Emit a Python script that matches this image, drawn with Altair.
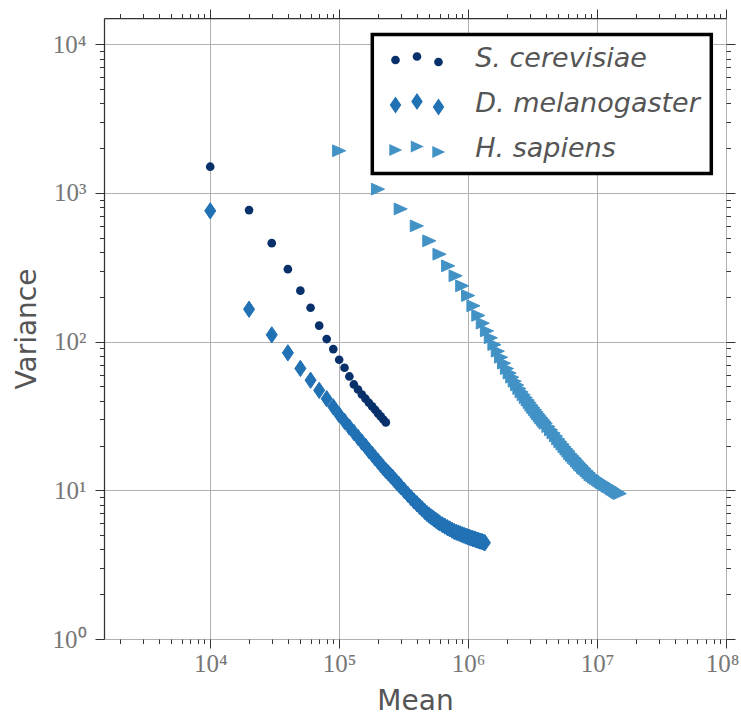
import altair as alt
import pandas as pd

species = ["S. cerevisiae", "D. melanogaster", "H. sapiens"]
colors = ["#08306b", "#2171b5", "#4292c6"]

s_cer_mean = [1.0e4, 2.0e4, 3.0e4, 4.0e4, 5.0e4, 6.0e4, 7.0e4, 8.0e4, 9.0e4, 1.0e5,
              1.1e5, 1.2e5, 1.3e5, 1.4e5, 1.5e5, 1.6e5, 1.7e5, 1.8e5, 1.9e5, 2.0e5,
              2.1e5, 2.2e5, 2.3e5]
s_cer_var = [1500, 766, 459, 307, 220, 169, 128, 104, 89.0, 75.5,
             66.7, 58.3, 51.5, 47.6, 44.1, 41.3, 38.8, 36.7, 34.8, 32.9,
             31.4, 29.9, 28.6]

d_mel_mean = [1.0e4, 2.0e4, 3.0e4, 4.0e4, 5.0e4, 6.0e4, 7.0e4, 8.0e4, 9.0e4, 1.0e5,
              1.1e5, 1.2e5, 1.3e5, 1.4e5, 1.5e5, 1.6e5, 1.7e5, 1.8e5, 1.9e5, 2.0e5,
              2.1e5, 2.2e5, 2.3e5, 2.4e5, 2.5e5, 2.6e5, 2.7e5, 2.8e5, 2.9e5, 3.0e5,
              3.2e5, 3.4e5, 3.6e5, 3.8e5, 4.0e5, 4.2e5, 4.4e5, 4.6e5, 4.8e5, 5.0e5,
              5.2e5, 5.4e5, 5.6e5, 5.8e5, 6.0e5,
              6.3e5, 6.6e5, 6.9e5, 7.2e5, 7.5e5, 7.8e5, 8.1e5, 8.4e5, 8.7e5, 9.0e5,
              9.3e5, 9.6e5, 9.9e5, 1.02e6, 1.05e6, 1.08e6, 1.11e6, 1.14e6, 1.17e6, 1.20e6,
              1.23e6, 1.26e6, 1.29e6, 1.32e6, 1.35e6]
d_mel_var = [757, 165, 111, 84, 66, 55, 47, 41.3, 36.4, 32.2,
             29.1, 26.6, 24.5, 22.7, 21.1, 19.8, 18.5, 17.5, 16.5, 15.7,
             14.9, 14.2, 13.6, 13.1, 12.6, 12.2, 11.7, 11.3, 10.96, 10.6,
             9.97, 9.41, 8.92, 8.48, 8.13, 7.80, 7.50, 7.22, 6.97, 6.78,
             6.61, 6.45, 6.30, 6.16, 6.03,
             5.87, 5.74, 5.61, 5.50, 5.39, 5.29, 5.22, 5.16, 5.09, 5.03,
             4.98, 4.92, 4.87, 4.83, 4.78, 4.74, 4.71, 4.67, 4.63, 4.60,
             4.56, 4.54, 4.51, 4.47, 4.44]

h_sap_mean = [1.0e5, 2.0e5, 3.0e5, 4.0e5, 5.0e5, 6.0e5, 7.0e5, 8.0e5, 9.0e5, 1.0e6,
              1.1e6, 1.2e6, 1.3e6, 1.4e6, 1.5e6, 1.6e6, 1.7e6, 1.8e6, 1.9e6, 2.0e6,
              2.1e6, 2.2e6, 2.3e6, 2.4e6, 2.5e6, 2.6e6, 2.7e6, 2.8e6, 2.9e6, 3.0e6,
              3.1e6, 3.2e6, 3.3e6, 3.4e6, 3.5e6, 3.6e6, 3.7e6, 3.8e6, 3.9e6, 4.0e6,
              4.2e6, 4.4e6, 4.6e6, 4.8e6, 5.0e6, 5.2e6, 5.4e6, 5.6e6, 5.8e6, 6.0e6,
              6.2e6, 6.4e6, 6.6e6, 6.8e6, 7.0e6, 7.2e6, 7.4e6, 7.6e6, 7.8e6, 8.0e6,
              8.3e6, 8.6e6, 8.9e6, 9.2e6, 9.5e6, 9.8e6, 1.01e7, 1.04e7, 1.07e7, 1.10e7,
              1.13e7, 1.16e7, 1.19e7, 1.22e7, 1.25e7, 1.28e7, 1.31e7, 1.34e7, 1.37e7, 1.40e7,
              1.43e7, 1.46e7, 1.50e7]
h_sap_var = [1920, 1060, 780, 600, 476, 387, 323, 277, 237, 204,
             174, 150, 133, 118, 106, 95.4, 86.2, 78.4, 71.6, 65.8,
             61.4, 57.6, 54.1, 51.1, 48.3, 45.9, 43.9, 42.0, 40.4, 38.8,
             37.3, 36.0, 34.8, 33.6, 32.5, 31.5, 30.6, 29.8, 29.0, 28.2,
             26.8, 25.5, 24.3, 23.2, 22.1, 21.2, 20.4, 19.6, 18.9, 18.3,
             17.6, 17.1, 16.6, 16.2, 15.7, 15.3, 14.9, 14.6, 14.2, 13.9,
             13.5, 13.1, 12.7, 12.5, 12.2, 12.0, 11.8, 11.6, 11.4, 11.2,
             11.1, 10.9, 10.8, 10.6, 10.5, 10.4, 10.2, 10.1, 9.97, 9.85,
             9.74, 9.62, 9.49]

x_ticks = [m * 10 ** e for e in range(3, 8) for m in range(1, 10)][1:] + [10 ** 8]
y_ticks = [m * 10 ** e for e in range(0, 4) for m in range(1, 10)] + [10 ** 4]

df_s = pd.DataFrame({"mean": s_cer_mean, "variance": s_cer_var})
df_d = pd.DataFrame({"mean": d_mel_mean, "variance": d_mel_var})
df_h = pd.DataFrame({"mean": h_sap_mean, "variance": h_sap_var})
df_leg = pd.DataFrame({"species": species})

xscale = alt.Scale(type="log", domain=[1500, 1e8], nice=False)
yscale = alt.Scale(type="log", domain=[1, 15000], nice=False)

MAJ = "abs(log(datum.value)/LN10 - round(log(datum.value)/LN10)) < 0.000001"
LBL = ("(" + MAJ + ") ? '10' + substring('\u2070\u00b9\u00b2\u00b3\u2074\u2075\u2076\u2077\u2078\u2079', "
       "round(log(datum.value)/LN10), round(log(datum.value)/LN10) + 1) : ''")
tick_size = {"condition": {"test": MAJ, "value": 9}, "value": 4.5}
grid_op = {"condition": {"test": MAJ, "value": 1}, "value": 0}
x_label_offset = {"condition": {"test": "datum.value > 99999999", "value": -4}, "value": 0}

common = dict(tickColor="#333333", tickWidth=1, tickSize=tick_size,
              labelOverlap=False, labelFlush=False,
              labelFont="Liberation Serif", labelFontSize=25, labelColor="#777777",
              domainColor="#333333", domainWidth=1.25,
              gridColor="#b0b0b0", gridWidth=1,
              titleFont="DejaVu Sans", titleFontSize=28, titleFontWeight="normal",
              titleColor="#555555")

ax_bottom = alt.Axis(orient="bottom", values=x_ticks, labelExpr=LBL, labelPadding=3,
                     labelOffset=x_label_offset,
                     grid=True, gridOpacity=grid_op, domain=False, title="Mean",
                     titleY=70, titleBaseline="alphabetic", **common)
ax_left = alt.Axis(orient="left", values=y_ticks, labelExpr=LBL, labelPadding=9,
                   grid=True, gridOpacity=grid_op, domain=True, title="Variance",
                   titleX=-69, titleBaseline="alphabetic", **common)
ax_top = alt.Axis(orient="top", values=x_ticks, labels=False, grid=False, domain=True,
                  title=None, **common)
ax_right = alt.Axis(orient="right", values=y_ticks, labels=False, grid=False, domain=False,
                    title=None, **common)

DIAMOND = "M0,-1L0.68,0L0,1L-0.68,0Z"
TRIANGLE = "M-0.95,-0.85L0.95,0L-0.95,0.85Z"


def triple(kind):
    xs = [-2.15, 0.0, 2.15]
    ys = [0.1, -0.25, 0.3]
    parts = []
    for cx, cy in zip(xs, ys):
        if kind == "circle":
            r = 0.435
            parts.append(f"M{cx - r:.3f},{cy:.3f}a{r},{r} 0 1,0 {2 * r:.3f},0a{r},{r} 0 1,0 {-2 * r:.3f},0Z")
        elif kind == "diamond":
            h, w = 0.85, 0.58
            parts.append(f"M{cx:.3f},{cy - h:.3f}L{cx + w:.3f},{cy:.3f}L{cx:.3f},{cy + h:.3f}L{cx - w:.3f},{cy:.3f}Z")
        else:
            h = 0.6
            parts.append(f"M{cx - 0.62:.3f},{cy - h:.3f}L{cx + 0.68:.3f},{cy:.3f}L{cx - 0.62:.3f},{cy + h:.3f}Z")
    return "".join(parts)


legend_shapes = [triple("circle"), triple("diamond"), triple("triangle")]

s_layer = alt.Chart(df_s).mark_point(filled=True, opacity=1, shape="circle", size=75,
                                     color=colors[0]).encode(
    x=alt.X("mean:Q", scale=xscale, axis=ax_bottom),
    y=alt.Y("variance:Q", scale=yscale, axis=ax_left),
)
d_layer = alt.Chart(df_d).mark_point(filled=True, opacity=1, shape=DIAMOND, size=265,
                                     color=colors[1], stroke=colors[1], strokeWidth=1,
                                     strokeJoin="round").encode(
    x=alt.X("mean:Q", scale=xscale, axis=ax_top),
    y=alt.Y("variance:Q", scale=yscale, axis=ax_right),
)
h_layer = alt.Chart(df_h).mark_point(filled=True, opacity=1, shape=TRIANGLE, size=190,
                                     color=colors[2], stroke=colors[2], strokeWidth=1,
                                     strokeJoin="round").encode(
    x=alt.X("mean:Q", scale=xscale, axis=None),
    y=alt.Y("variance:Q", scale=yscale, axis=None),
)

legend = alt.Legend(title=None, orient="none", legendX=268.3, legendY=16.5,
                    padding=11, rowPadding=17, symbolSize=400, symbolOffset=20.2,
                    symbolStrokeWidth=0, labelOffset=44.7, labelFont="DejaVu Sans",
                    labelFontSize=27, labelFontStyle="italic", labelColor="#555555",
                    labelLimit=500, strokeColor="black", fillColor="white", cornerRadius=0)

leg_layer = alt.Chart(df_leg).mark_point(filled=True, opacity=1).encode(
    color=alt.Color("species:N", scale=alt.Scale(domain=species, range=colors), legend=legend),
    shape=alt.Shape("species:N", scale=alt.Scale(domain=species, range=legend_shapes), legend=legend),
).transform_filter("false")

chart = alt.layer(s_layer, d_layer, h_layer, leg_layer).resolve_axis(
    x="independent", y="independent"
).properties(
    width=622, height=621,
    autosize=alt.AutoSizeParams(type="none"),
    padding={"left": 104, "top": 18, "right": 15, "bottom": 77},
    background="white",
).configure_view(stroke=None).configure_legend(strokeWidth=3.5)

chart.save("out.html", embed_options={"renderer": "svg", "actions": False})
